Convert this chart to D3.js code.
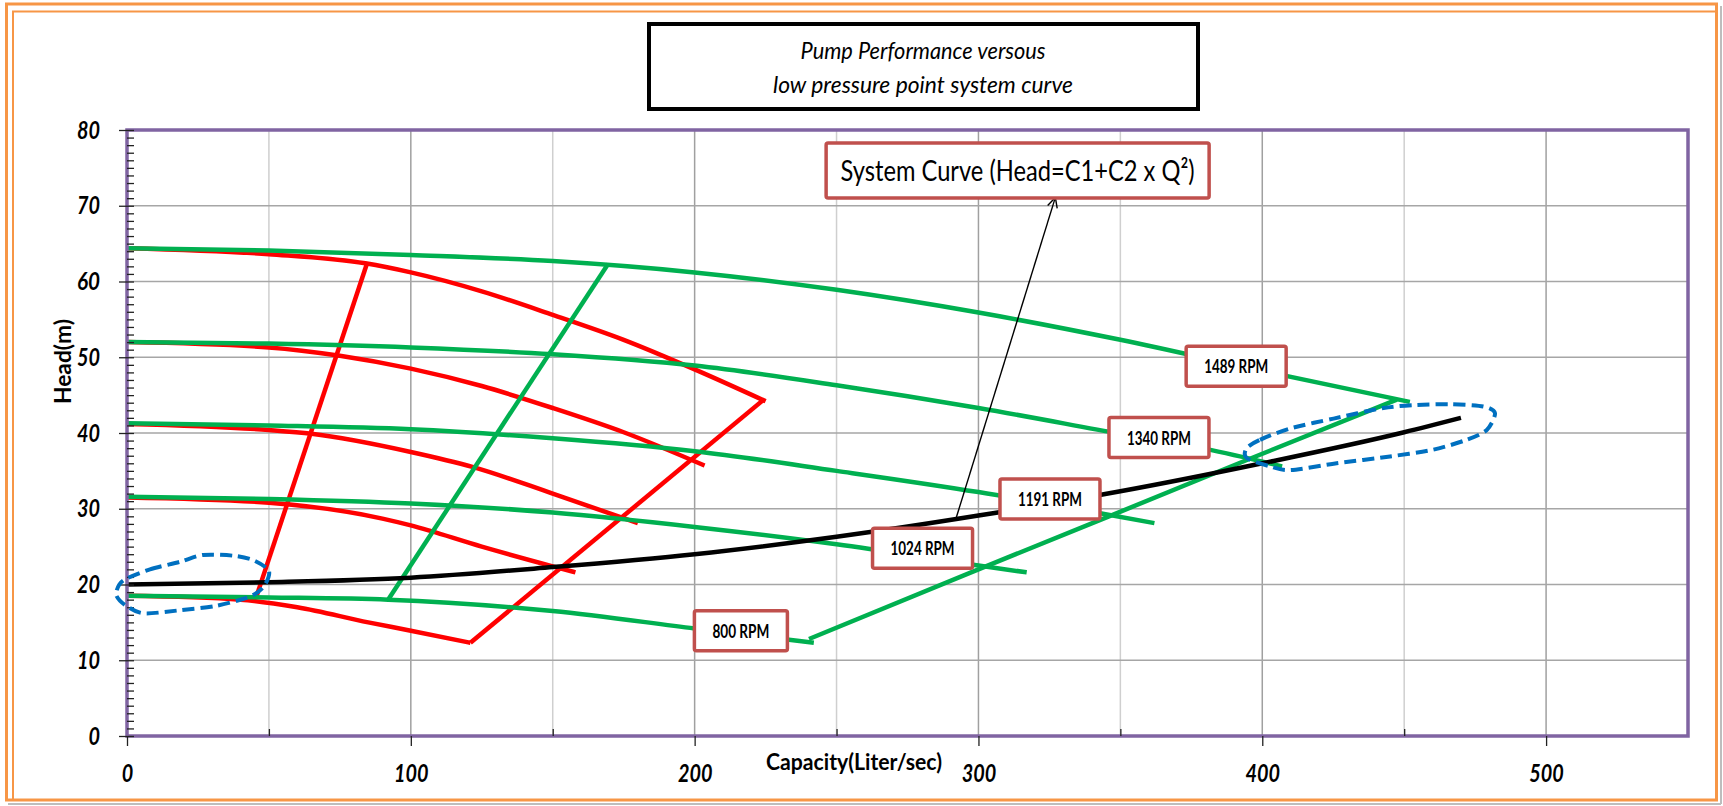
<!DOCTYPE html>
<html><head><meta charset="utf-8">
<script src="https://cdn.jsdelivr.net/npm/d3@7"></script>
<style>
html,body{margin:0;padding:0;background:#fff;}
svg{display:block;}
</style></head><body>
<svg id="chart" width="1723" height="806"></svg>
<script>
// ---------------- DATA ----------------
const xTickValues = [0, 100, 200, 300, 400, 500];
const yTickValues = [0, 10, 20, 30, 40, 50, 60, 70, 80];
const titleLines = ["Pump Performance versous", "low pressure point system curve"];
const xAxisTitle = "Capacity(Liter/sec)";
const yAxisTitle = "Head(m)";
const systemLabelText = "System Curve (Head=C1+C2 x Q²)";

// green pump curves [Q (l/s), Head (m)]
const green800  = [[0,18.5],[50,18.3],[92,18.0],[150,16.5],[200,14.2],[242,12.3]];
const green1024 = [[0,31.6],[50,31.3],[100,30.7],[150,29.5],[200,27.6],[250,25.3],[300,22.5],[317,21.6]];
const green1191 = [[0,41.3],[50,41.0],[100,40.5],[150,39.3],[200,37.6],[250,35.0],[300,32.2],[340,29.6],[362,28.1]];
const green1340 = [[0,52.0],[50,51.8],[100,51.3],[150,50.4],[200,48.9],[250,46.3],[300,43.3],[350,39.9],[380,37.9],[407,35.6]];
const green1489 = [[0,64.4],[50,64.1],[100,63.5],[150,62.7],[200,61.2],[250,58.9],[300,55.9],[350,52.3],[400,48.2],[452,44.1]];
const greenBepLine = [[92,18.0],[169.5,62.3]];
const greenRunoutLine = [[240.3,12.8],[300,22.0],[346,29.0],[395,36.5],[447.4,44.4]];

// red pump curves
const red800  = [[0,18.5],[40,18.0],[60,17.0],[85,15.0],[100,13.9],[121,12.3]];
const red1024 = [[0,31.5],[50,30.8],[90,28.7],[100,27.8],[125,25.0],[150,22.4],[158,21.6]];
const red1191 = [[0,41.2],[50,40.4],[65,39.9],[100,37.5],[122,35.5],[150,32.0],[180,28.1]];
const red1340 = [[0,52.0],[50,51.3],[75,50.2],[100,48.5],[125,46.2],[150,43.3],[175,40.1],[203.5,35.7]];
const red1489 = [[0,64.4],[50,63.6],[84,62.4],[100,61.2],[125,58.7],[150,55.6],[175,52.3],[200,48.4],[225,44.2]];
const redBepLine = [[45.5,18.3],[84.5,62.3]];
const redRunoutLine = [[121,12.3],[224,44.3]];

// system curve
const systemCurve = [[0,20.0],[50,20.3],[100,20.9],[150,22.3],[200,24.0],[250,26.3],[300,29.1],[350,32.3],[400,36.0],[450,40.1],[470,42.0]];

// annotations (data units)
const speedLabels = ["800 RPM", "1024 RPM", "1191 RPM", "1340 RPM", "1489 RPM"];
const speedLabelQ = [216.3, 280.3, 325.2, 363.6, 390.8];
const speedLabelH = [13.9, 24.8, 31.3, 39.4, 48.8];
const systemLabelPos = [313.8, 74.65];
const systemArrow = [[292.2,28.85],[327.1,71.1]];
const leftCloud = [[-0.1,20.8],[8.1,22.0],[18.7,23.0],[26.8,23.9],[37.4,23.8],[44.6,23.2],[50.0,21.8],[48.3,19.8],[43.3,18.4],[31.6,17.2],[18.7,16.6],[5.7,16.2],[-0.7,17.3],[-3.8,18.6],[-2.7,20.0]];
const rightCloud = [[394.5,38.0],[399.2,39.1],[409.8,40.6],[425.1,41.9],[442.7,43.3],[454.4,43.7],[466.2,43.8],[477.9,43.5],[482.0,42.6],[479.1,40.4],[472.0,39.1],[460.3,37.8],[445.0,36.9],[426.2,36.0],[409.8,35.1],[402.7,35.6],[394.5,36.7]];

// ---------------- LAYOUT ----------------
const svg = d3.select("#chart");
const plot = {left:127, right:1688, top:130, bottom:736};
const x = d3.scaleLinear().domain([0,550]).range([plot.left, plot.right]);
const y = d3.scaleLinear().domain([0,80]).range([plot.bottom, plot.top]);

const ORANGE = "#F79646", PURPLE = "#8064A2", GREEN = "#00B050", RED = "#FF0000",
      BLUE = "#0070C0", BOXRED = "#C0504D";
const FONT = "Lato, 'Open Sans', sans-serif";

svg.append("rect").attr("width",1723).attr("height",806).attr("fill","#fff");

// outer frame
svg.append("line").attr("x1",8).attr("x2",1721).attr("y1",804).attr("y2",804).attr("stroke","#BDBDBD").attr("stroke-width",2);
svg.append("line").attr("x1",1721).attr("x2",1721).attr("y1",6).attr("y2",804).attr("stroke","#BDBDBD").attr("stroke-width",2);
svg.append("rect").attr("x",6.5).attr("y",4).attr("width",1710).attr("height",796)
  .attr("fill","none").attr("stroke",ORANGE).attr("stroke-width",3);
svg.append("rect").attr("x",13).attr("y",11.5).attr("width",1703).attr("height",788.5)
  .attr("fill","none").attr("stroke",ORANGE).attr("stroke-width",2);

// title box
svg.append("rect").attr("x",649).attr("y",24).attr("width",549).attr("height",85)
  .attr("fill","#fff").attr("stroke","#000").attr("stroke-width",4);
svg.append("text").attr("x",923).attr("y",59).attr("text-anchor","middle")
  .attr("font-family",FONT).attr("font-style","italic").attr("font-size",24)
  .attr("textLength",245).attr("lengthAdjust","spacingAndGlyphs").text(titleLines[0]);
svg.append("text").attr("x",923).attr("y",93).attr("text-anchor","middle")
  .attr("font-family",FONT).attr("font-style","italic").attr("font-size",24)
  .attr("textLength",300).attr("lengthAdjust","spacingAndGlyphs").text(titleLines[1]);

// gridlines
const g = svg.append("g");
g.selectAll("line.vg").data(d3.range(50,550,50)).join("line")
  .attr("x1",d=>x(d)).attr("x2",d=>x(d)).attr("y1",plot.top).attr("y2",plot.bottom)
  .attr("stroke",d=>d%100===0?"#A0A0A0":"#CFCFCF").attr("stroke-width",1.5);
g.selectAll("line.hg").data(d3.range(10,80,10)).join("line")
  .attr("x1",plot.left).attr("x2",plot.right).attr("y1",d=>y(d)).attr("y2",d=>y(d))
  .attr("stroke","#A6A6A6").attr("stroke-width",1.5);

// curves
const smooth = d3.line().x(d=>x(d[0])).y(d=>y(d[1])).curve(d3.curveMonotoneX);
const straight = d3.line().x(d=>x(d[0])).y(d=>y(d[1]));
function draw(data, gen, color, w){
  svg.append("path").attr("d",gen(data)).attr("fill","none").attr("stroke",color)
    .attr("stroke-width",w).attr("stroke-linejoin","round");
}
[red800,red1024,red1191,red1340,red1489].forEach(s=>draw(s,smooth,RED,4.5));
draw(redBepLine,straight,RED,4.5);
draw(redRunoutLine,straight,RED,4.5);
[green800,green1024,green1191,green1340,green1489].forEach(s=>draw(s,smooth,GREEN,4.5));
draw(greenBepLine,straight,GREEN,4.5);
draw(greenRunoutLine,straight,GREEN,4.5);
draw(systemCurve,smooth,"#000",4.5);

// plot border
svg.append("rect").attr("x",plot.left).attr("y",plot.top)
  .attr("width",plot.right-plot.left).attr("height",plot.bottom-plot.top)
  .attr("fill","none").attr("stroke",PURPLE).attr("stroke-width",3.5);

// axes
function styleAxis(sel){
  sel.select(".domain").remove();
  sel.selectAll(".tick line").attr("stroke","#222").attr("stroke-width",1.3);
}
const yMinor = svg.append("g").attr("transform",`translate(${plot.left},0)`)
  .call(d3.axisLeft(y).tickValues(d3.range(0,81,1)).tickSize(-7).tickFormat(""));
styleAxis(yMinor);
const yMajor = svg.append("g").attr("transform",`translate(${plot.left},0)`)
  .call(d3.axisLeft(y).tickValues(yTickValues).tickSize(8).tickPadding(19).tickFormat(d3.format("d")));
styleAxis(yMajor);
const xMinor = svg.append("g").attr("transform",`translate(0,${plot.bottom})`)
  .call(d3.axisBottom(x).tickValues([50,150,250,350,450]).tickSize(-7).tickFormat(""));
styleAxis(xMinor);
const xMajor = svg.append("g").attr("transform",`translate(0,${plot.bottom})`)
  .call(d3.axisBottom(x).tickValues(xTickValues).tickSize(10).tickPadding(18).tickFormat(d3.format("d")));
styleAxis(xMajor);
[yMajor,xMajor].forEach(a=>a.selectAll(".tick text")
  .attr("font-family",FONT).attr("font-weight","bold").attr("font-style","italic")
  .attr("font-size",25).attr("fill","#000")
  .attr("textLength",function(){return this.textContent.length*11.5;})
  .attr("lengthAdjust","spacingAndGlyphs"));

// axis titles
svg.append("text").attr("transform","translate(71,361.5) rotate(-90)")
  .attr("text-anchor","middle").attr("font-family",FONT).attr("font-weight","bold")
  .attr("font-size",22).attr("textLength",85).attr("lengthAdjust","spacingAndGlyphs").text(yAxisTitle);
svg.append("text").attr("x",854).attr("y",770).attr("text-anchor","middle")
  .attr("font-family",FONT).attr("font-weight","bold").attr("font-size",22)
  .attr("textLength",176).attr("lengthAdjust","spacingAndGlyphs").text(xAxisTitle);

// blue dashed clouds
const cloud = d3.line().x(d=>x(d[0])).y(d=>y(d[1])).curve(d3.curveCardinalClosed.tension(0.2));
[leftCloud,rightCloud].forEach(c=>svg.append("path").attr("d",cloud(c)).attr("fill","none")
  .attr("stroke",BLUE).attr("stroke-width",4).attr("stroke-dasharray","12,6"));

// arrow to system curve label
svg.append("defs").append("marker").attr("id","arr").attr("viewBox","0 0 12 12")
  .attr("refX",11).attr("refY",6).attr("markerWidth",12).attr("markerHeight",12)
  .attr("markerUnits","userSpaceOnUse").attr("orient","auto")
  .append("path").attr("d","M1,1 L11,6 L1,11").attr("fill","none").attr("stroke","#000").attr("stroke-width",1.4);
svg.append("line").attr("x1",x(systemArrow[0][0])).attr("y1",y(systemArrow[0][1]))
  .attr("x2",x(systemArrow[1][0])).attr("y2",y(systemArrow[1][1]))
  .attr("stroke","#000").attr("stroke-width",1.4).attr("marker-end","url(#arr)");

// system label box
const sx = x(systemLabelPos[0]), sy = y(systemLabelPos[1]);
svg.append("rect").attr("x",sx-191.5).attr("y",sy-27.5).attr("width",383).attr("height",55)
  .attr("rx",2).attr("fill","#fff").attr("stroke",BOXRED).attr("stroke-width",3.5);
svg.append("text").attr("x",sx).attr("y",sy+10).attr("text-anchor","middle")
  .attr("font-family",FONT).attr("font-size",29)
  .attr("textLength",354).attr("lengthAdjust","spacingAndGlyphs").text(systemLabelText);

// speed labels
speedLabels.forEach((t,i)=>{
  const cx = x(speedLabelQ[i]), cy = y(speedLabelH[i]);
  const tl = t.length===7 ? 57 : 64;
  const bw = tl + 36;
  svg.append("rect").attr("x",cx-bw/2).attr("y",cy-20).attr("width",bw).attr("height",40)
    .attr("rx",2).attr("fill","#fff").attr("stroke",BOXRED).attr("stroke-width",3.5);
  svg.append("text").attr("x",cx).attr("y",cy+7).attr("text-anchor","middle")
    .attr("font-family",FONT).attr("font-weight","bold").attr("font-size",19)
    .attr("textLength",tl).attr("lengthAdjust","spacingAndGlyphs").text(t);
});
</script>
</body></html>
